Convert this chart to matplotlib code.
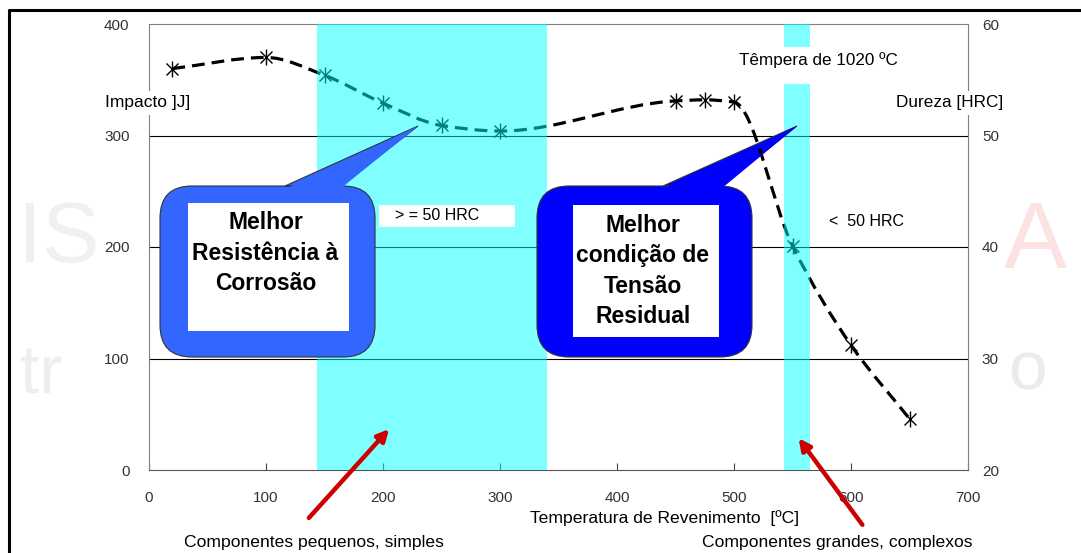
import numpy as np
import matplotlib
matplotlib.use("Agg")
import matplotlib.pyplot as plt
from matplotlib.path import Path
from matplotlib.patches import PathPatch, FancyBboxPatch, Polygon, Rectangle, FancyArrowPatch
from matplotlib.lines import Line2D
import matplotlib.transforms as mtransforms

plt.rcParams["font.family"] = ["Liberation Sans", "DejaVu Sans"]

# --- data ---
temp = [20, 100, 150, 200, 250, 300, 450, 475, 500, 550, 600, 650]
impact = [360, 370, 354, 329, 309, 304, 331, 332, 330, 201, 112, 46]
band_small = (144, 340)      # componentes pequenos
band_large = (543, 565)      # componentes grandes
impact_ticks = [0, 100, 200, 300, 400]
hrc_ticks = [20, 30, 40, 50, 60]
temp_ticks = [0, 100, 200, 300, 400, 500, 600, 700]

W, H = 1081, 553
fig = plt.figure(figsize=(W / 100, H / 100), dpi=100)
# pixel coords, origin top-left (for the drawn annotations)
pix = mtransforms.Affine2D().scale(1 / W, -1 / H).translate(0, 1) + fig.transFigure

# faint watermark behind everything
for s, x, y, fs, c in [("IS", 18, 262, 62, "#f0f0f0"), ("tr", 20, 394, 50, "#eeeeee"),
                       ("A", 1004, 268, 68, "#fde2e2"), ("o", 1008, 390, 50, "#ebebeb")]:
    fig.text(x, y, s, transform=pix, fontsize=fs, color=c, zorder=0, va="baseline")

# outer frame
fig.add_artist(Line2D([9, 9, W + 5], [H + 5, 10, 10], transform=pix, color="black", lw=2.2))

ax = fig.add_axes([149 / W, 1 - 470 / H, (968 - 149) / W, (470 - 24) / H])
ax.set_zorder(1)
ax.set_xlim(0, 700)
ax.set_ylim(0, 400)
ax.set_xticks(temp_ticks)
ax.set_yticks(impact_ticks)
ax.tick_params(axis="x", direction="in", length=5, pad=15, labelsize=11, labelcolor="#333333",
               color="#444444")
ax.tick_params(axis="y", length=0, pad=14, labelsize=11, labelcolor="#333333")
for y in impact_ticks[1:-1]:
    ax.axhline(y, color="black", lw=0.8, zorder=0.5)
for side in ["left", "right", "top"]:
    ax.spines[side].set_color("#808080")
ax.spines["bottom"].set_color("#555555")

ax2 = ax.twinx()
ax2.set_ylim(20, 60)
ax2.set_yticks(hrc_ticks)
ax2.tick_params(axis="y", length=0, pad=10, labelsize=11, labelcolor="#333333")
for sp in ax2.spines.values():
    sp.set_visible(False)

# smoothed curve through the measured points (monotone cubic, drawn as Bezier segments)
x = np.asarray(temp, float)
y = np.asarray(impact, float)
h = np.diff(x)
d = np.diff(y) / h
m = np.zeros_like(y)
m[0], m[-1] = d[0], d[-1]
for k in range(1, len(y) - 1):
    if d[k - 1] * d[k] > 0:
        w1 = 2 * h[k] + h[k - 1]
        w2 = h[k] + 2 * h[k - 1]
        m[k] = (w1 + w2) / (w1 / d[k - 1] + w2 / d[k])
verts, codes = [(x[0], y[0])], [Path.MOVETO]
for k in range(len(x) - 1):
    verts += [(x[k] + h[k] / 3, y[k] + m[k] * h[k] / 3),
              (x[k + 1] - h[k] / 3, y[k + 1] - m[k + 1] * h[k] / 3),
              (x[k + 1], y[k + 1])]
    codes += [Path.CURVE4] * 3
curve = Path(verts, codes)
ax.add_patch(PathPatch(curve, fill=False, ec="black", lw=2.3, ls=(0, (4, 2.2)), zorder=2))
ax.plot(temp, impact, ls="none", marker="x", ms=9, mec="black", mew=1.0, zorder=3)
ax.plot(temp, impact, ls="none", marker="|", ms=11, mec="black", mew=1.0, zorder=3)

# cyan bands (drawn over the curve, which turns teal inside them)
ax.axvspan(*band_small, color="#00ffff", alpha=0.5, lw=0, zorder=4)
ax.axvspan(*band_large, color="#00ffff", alpha=0.5, lw=0, zorder=4)

# labels inside the plot
fig.add_artist(Rectangle((379, 205), 136, 22, transform=pix, fc="white", ec="none", zorder=5))
fig.text(395, 216, "> = 50 HRC", transform=pix, fontsize=11.5, va="center", ha="left", zorder=6)
fig.text(829, 222, "<  50 HRC", transform=pix, fontsize=11.5, va="center", ha="left", zorder=6)
fig.add_artist(Rectangle((779, 47), 38, 37, transform=pix, fc="white", ec="none", zorder=5))
fig.text(818, 60, "Têmpera de 1020 ºC", transform=pix, fontsize=12.3, va="center", ha="center", zorder=6)

# axis titles (white boxes break the spines)
fig.text(148, 103, "Impacto ]J]", transform=pix, fontsize=12.5, va="center", ha="center", zorder=6,
         bbox=dict(fc="white", ec="none", pad=3))
fig.text(950, 103, "Dureza [HRC]", transform=pix, fontsize=12.3, va="center", ha="center", zorder=6,
         bbox=dict(fc="white", ec="none", pad=3))
fig.text(665, 518, "Temperatura de Revenimento  [ºC]", transform=pix, fontsize=12.6,
         va="center", ha="center", zorder=6)


def bubble(box, inner, tail, color, lines, cy):
    x0, y0, x1, y1 = box
    fig.add_artist(FancyBboxPatch((x0, y0), x1 - x0, y1 - y0, transform=pix,
                                  boxstyle="round,pad=0,rounding_size=32",
                                  fc=color, ec="#333333", lw=0.8, zorder=7))
    tp = Polygon(tail, closed=True, transform=pix, fc=color, ec="#333333", lw=0.8, zorder=7)
    fig.add_artist(tp)
    (ax_, ay), tip, (bx, by) = tail
    fig.add_artist(Polygon([(ax_ + 1, ay + 3), tip, (bx - 1, by + 3)], closed=True,
                           transform=pix, fc=color, ec="none", zorder=7.1))
    ix0, iy0, ix1, iy1 = inner
    fig.add_artist(Rectangle((ix0, iy0), ix1 - ix0, iy1 - iy0, transform=pix,
                             fc="white", ec="none", zorder=7.2))
    fig.text((ix0 + ix1) / 2 - 3, cy, lines, transform=pix, fontsize=16.5, fontweight="bold",
             ha="center", va="center", linespacing=1.42, zorder=7.3)
    return tp


bubble((160, 186, 375, 357), (188, 203, 349, 331), [(285, 186), (418, 126), (341, 186)],
       "#3366ff", "Melhor\nResistência à\nCorrosão", 253)
tail2 = bubble((537, 186, 752, 357), (573, 205, 719, 337), [(663, 186), (797, 126), (722, 186)],
               "#0000ff", "Melhor\ncondição de\nTensão\nResidual", 271)

# dashed curve shows on top of the second bubble's pointer
top = PathPatch(curve, fill=False, ec="black", lw=2.3, ls=(0, (4, 2.2)), zorder=8,
                transform=ax.transData)
fig.add_artist(top)
top.set_clip_path(tail2)

# red arrows with captions
for (tx, ty), (hx, hy) in [((307, 520), (391, 427)), ((864, 527), (797, 436))]:
    fig.add_artist(FancyArrowPatch((tx, ty), (hx, hy), transform=pix, arrowstyle="-|>",
                                   mutation_scale=17, lw=3.2, color="#cc0000", zorder=9))
fig.text(314, 542, "Componentes pequenos, simples", transform=pix, fontsize=12.6,
         va="center", ha="center", zorder=6)
fig.text(837, 542, "Componentes grandes, complexos", transform=pix, fontsize=12.6,
         va="center", ha="center", zorder=6)

fig.savefig("out.png", dpi=100)
